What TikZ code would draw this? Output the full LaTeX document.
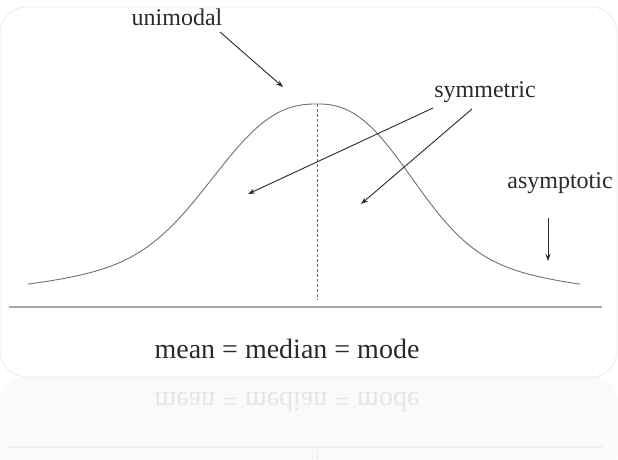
\documentclass[tikz,border=0pt]{standalone}
\usepackage{fontspec}
\setmainfont{Liberation Serif}
\usepackage{graphicx}
\usetikzlibrary{arrows.meta}
\definecolor{txt}{HTML}{2A2A2A}
\definecolor{crv}{HTML}{707070}
\definecolor{axis}{HTML}{A8A8A8}
\definecolor{frame}{HTML}{EDEDED}
\definecolor{refl}{HTML}{FAFAFA}
\begin{document}
\begin{tikzpicture}[x=1pt,y=-1pt,
  lbl/.style={font=\fontsize{24}{26}\selectfont, text=txt, inner sep=0pt, anchor=base},
  eqn/.style={font=\fontsize{28}{30}\selectfont, text=txt, inner sep=0pt, anchor=base},
  pointer/.style={draw=txt, line width=0.9pt, -{Stealth[length=7pt,width=5pt]}},
  declare function={bell(\d)=0.7*exp(-pow(abs(\d)/125,2.5))+0.3*exp(-pow(\d/230,2));}]
\useasboundingbox (0,0) rectangle (618,459);
\fill[white] (0,0) rectangle (618,459);
% reflection panel
\fill[refl, rounded corners=26pt] (0,376) rectangle (618,480);
% main panel
\draw[frame, fill=white, line width=0.8pt, rounded corners=26pt] (0,7) rectangle (617,377);
% baseline
\draw[axis, line width=1.8pt] (9,307) -- (602,307);
% dashed median line
\draw[crv, dashed, dash pattern=on 3pt off 2pt, line width=0.9pt] (317,104) -- (317,300);
% bell curve
\draw[crv, line width=0.9pt] plot[domain=28:317, samples=100, smooth] (\x, {296-192*bell(\x-317)})
  -- plot[domain=317:580, samples=100, smooth] (\x, {296-192*bell(1.1*(\x-317))});
% labels
\node[lbl] (uni) at (177,25) {unimodal};
\node[lbl] (sym) at (485,97) {symmetric};
\node[lbl] (asy) at (560,188) {asymptotic};
\node[eqn] (eq) at (287,358) {mean = median = mode};
% arrow endpoints
\coordinate (u1) at (220,32);
\coordinate (u2) at (283,87);
\coordinate (s1) at (433,108);
\coordinate (s1e) at (248,194);
\coordinate (s2) at (472,109);
\coordinate (s2e) at (361,204);
\coordinate (a1) at (548,218);
\coordinate (a2) at (548,261);
\draw[pointer] (u1) -- (u2);
\draw[pointer] (s1) -- (s1e);
\draw[pointer] (s2) -- (s2e);
\draw[pointer] (a1) -- (a2);
% reflection
\node[eqn, anchor=center, text=black!10] (req) at (287,402) {\scalebox{1}[-1]{mean = median = mode}};
\draw[black!7, line width=1.8pt] (9,447) -- (602,447);
\draw[black!10, line width=0.9pt, dashed, dash pattern=on 3pt off 2pt] (317,451) -- (317,459);
\end{tikzpicture}
\end{document}
